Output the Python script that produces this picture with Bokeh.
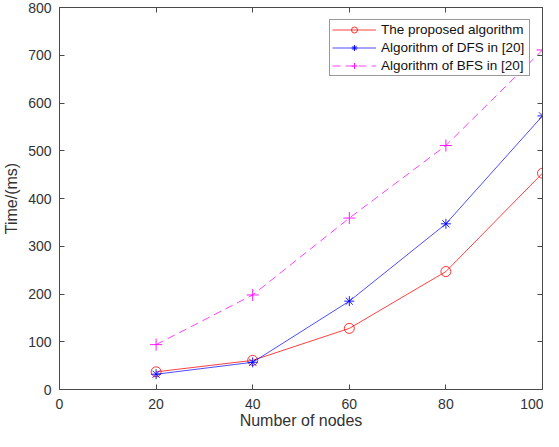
from bokeh.plotting import figure
from bokeh.models import LinearAxis, FixedTicker, Legend, LegendItem, Range1d
from bokeh.embed import file_html
from bokeh.resources import INLINE

nodes = [20, 40, 60, 80, 100]
proposed = [37, 61, 128, 247, 453]
dfs = [32, 57, 185, 347, 573]
bfs = [94, 198, 359, 511, 711]
x_ticks = [0, 20, 40, 60, 80, 100]
y_ticks = [0, 100, 200, 300, 400, 500, 600, 700, 800]
series_names = ["The proposed algorithm", "Algorithm of DFS in [20]", "Algorithm of BFS in [20]"]

FONT = "Liberation Sans"
AX = "#4a4a4a"
TXT = "#333333"

p = figure(width=543, height=431, x_range=Range1d(0, 100), y_range=Range1d(0, 800),
           output_backend="svg", toolbar_location=None,
           min_border_left=58, min_border_right=1, min_border_top=7, min_border_bottom=42,
           x_axis_label="Number of nodes", y_axis_label="Time/(ms)")
p.xgrid.visible = False
p.ygrid.visible = False
p.outline_line_color = None
p.background_fill_color = "white"
p.border_fill_color = "white"

def style_axis(ax, ticks, show_labels=True):
    ax.ticker = FixedTicker(ticks=ticks)
    ax.major_tick_in = 5
    ax.major_tick_out = 0
    ax.minor_tick_line_color = None
    ax.axis_line_color = AX
    ax.axis_line_width = 1
    ax.major_tick_line_color = AX
    ax.major_label_text_font = FONT
    ax.major_label_text_color = TXT
    ax.axis_label_text_font = FONT
    ax.axis_label_text_color = TXT
    ax.axis_label_text_font_style = "normal"
    if show_labels:
        ax.major_label_text_font_size = "14px"
        ax.axis_label_text_font_size = "16px"
    else:
        ax.major_label_text_font_size = "0px"
        ax.major_label_standoff = 0

style_axis(p.xaxis[0], x_ticks)
style_axis(p.yaxis[0], y_ticks)
p.xaxis[0].major_label_standoff = 9
p.xaxis[0].axis_label_standoff = 0
p.yaxis[0].major_label_standoff = 8
p.yaxis[0].axis_label_standoff = 5

top = LinearAxis()
style_axis(top, x_ticks, show_labels=False)
p.add_layout(top, "above")
right = LinearAxis()
style_axis(right, y_ticks, show_labels=False)
p.add_layout(right, "right")

r1l = p.line(nodes, proposed, line_color="#ff0000", line_alpha=0.75, line_width=1)
r1m = p.scatter(nodes, proposed, marker="circle", size=10, fill_color=None,
                line_color="#ff0000", line_alpha=0.8, line_width=1)
r2l = p.line(nodes, dfs, line_color="#0000ff", line_alpha=0.7, line_width=1)
r2m = p.scatter(nodes, dfs, marker="asterisk", size=10, line_color="#0000ff",
                line_alpha=0.9, line_width=1)
r3l = p.line(nodes, bfs, line_color="#ff00ff", line_alpha=0.75, line_width=1, line_dash="8 5")
r3m = p.scatter(nodes, bfs, marker="cross", size=12, line_color="#ff00ff",
                line_alpha=0.9, line_width=1)

legend = Legend(items=[LegendItem(label=series_names[0], renderers=[r1l, r1m]),
                       LegendItem(label=series_names[1], renderers=[r2l, r2m]),
                       LegendItem(label=series_names[2], renderers=[r3l, r3m])],
                location="top_right", margin=12, padding=2, spacing=3,
                glyph_width=44, glyph_height=15, label_height=15, label_width=146,
                label_standoff=5, label_text_font=FONT, label_text_font_size="13.5px",
                label_text_color="#111111", border_line_color="#333333", border_line_width=1,
                background_fill_color="white", background_fill_alpha=1.0)
p.add_layout(legend)

open("out.html", "w").write(file_html(p, INLINE))
